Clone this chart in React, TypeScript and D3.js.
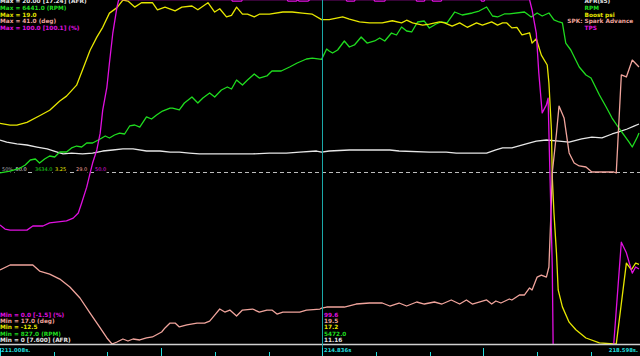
import React from "react";
import * as d3 from "d3";

const W = 640;
const H = 356;
const PLOT_BOTTOM = 344;

const T_START = 211.008;
const T_CURSOR = 214.836;
const T_END = 218.598;
const TICK_STEP = 0.638;

type P = [number, number]; // [seconds after T_START, value]

const afrData: P[] = [
  [0.0, 11.86], [0.08, 11.74], [0.2, 11.63], [0.32, 11.57], [0.44, 11.45], [0.56, 11.34], [0.68, 11.16], [0.75, 11.05],
  [0.85, 11.1], [0.98, 11.05], [1.1, 11.1], [1.22, 11.22], [1.34, 11.28], [1.46, 11.34], [1.58, 11.34], [1.74, 11.22],
  [1.9, 11.22], [2.02, 11.16], [2.13, 11.16], [2.25, 11.1], [2.37, 11.05], [2.69, 11.05], [3.0, 11.05], [3.2, 11.1],
  [3.4, 11.1], [3.56, 11.16], [3.76, 11.22], [3.82, 11.16], [3.91, 11.22], [4.15, 11.28], [4.39, 11.28], [4.63, 11.28],
  [4.74, 11.22], [5.1, 11.16], [5.3, 11.16], [5.42, 11.1], [5.57, 11.1], [5.78, 11.1], [5.89, 11.28], [5.97, 11.4],
  [6.08, 11.4], [6.25, 11.63], [6.37, 11.8], [6.49, 11.86], [6.64, 11.8], [6.76, 11.74], [6.91, 11.92], [7.03, 12.03],
  [7.15, 11.98], [7.27, 12.21], [7.35, 12.33], [7.45, 12.5], [7.53, 12.67], [7.59, 12.79],
];

const rpmData: P[] = [
  [0.0, 3618], [0.12, 3650], [0.24, 3699], [0.3, 3748], [0.36, 3830], [0.42, 3846], [0.47, 3781], [0.53, 3846],
  [0.59, 3895], [0.65, 3879], [0.71, 3960], [0.79, 3960], [0.85, 4026], [0.91, 4058], [0.97, 4042], [1.03, 4107],
  [1.1, 4107], [1.19, 4173], [1.25, 4222], [1.3, 4189], [1.36, 4238], [1.42, 4270], [1.48, 4254], [1.54, 4385],
  [1.6, 4401], [1.66, 4368], [1.74, 4532], [1.8, 4499], [1.86, 4564], [1.93, 4629], [2.02, 4678], [2.05, 4678],
  [2.13, 4646], [2.19, 4760], [2.28, 4858], [2.35, 4760], [2.41, 4842], [2.49, 4923], [2.55, 4858], [2.63, 4972],
  [2.7, 5021], [2.75, 4989], [2.81, 5135], [2.88, 5054], [2.94, 5135], [3.02, 5233], [3.08, 5168], [3.17, 5201],
  [3.23, 5282], [3.34, 5282], [3.44, 5348], [3.53, 5413], [3.64, 5478], [3.71, 5494], [3.82, 5472], [3.88, 5641],
  [3.91, 5609], [3.95, 5576], [4.01, 5625], [4.09, 5772], [4.15, 5674], [4.21, 5707], [4.29, 5837], [4.36, 5739],
  [4.45, 5772], [4.51, 5821], [4.57, 5772], [4.65, 5902], [4.71, 5870], [4.77, 6000], [4.83, 5935], [4.89, 5919],
  [4.96, 6082], [5.04, 6098], [5.1, 5984], [5.18, 6049], [5.24, 6082], [5.31, 6066], [5.4, 6245], [5.49, 6196],
  [5.61, 6229], [5.69, 6261], [5.78, 6327], [5.85, 6180], [5.91, 6164], [5.99, 6213], [6.05, 6213], [6.23, 6245],
  [6.31, 6164], [6.38, 6229], [6.44, 6180], [6.52, 6229], [6.58, 6115], [6.64, 6082], [6.68, 6066], [6.72, 5739],
  [6.78, 5625], [6.88, 5348], [6.96, 5217], [7.02, 5168], [7.12, 4891], [7.2, 4695], [7.27, 4515], [7.35, 4352],
  [7.41, 4238], [7.47, 4124], [7.51, 4042], [7.57, 4205], [7.59, 4270],
];

const boostData: P[] = [
  [0.0, 7.7], [0.12, 7.55], [0.2, 7.55], [0.32, 7.8], [0.47, 8.4], [0.59, 8.9], [0.71, 9.75], [0.79, 10.2],
  [0.91, 11.2], [0.98, 12.6], [1.07, 14.4], [1.15, 15.6], [1.22, 16.5], [1.3, 17.8], [1.39, 18.3], [1.46, 19.0],
  [1.52, 18.9], [1.6, 18.35], [1.68, 18.75], [1.81, 18.75], [1.87, 18.1], [1.96, 18.35], [2.08, 18.0], [2.16, 18.35],
  [2.28, 18.45], [2.35, 18.1], [2.47, 18.75], [2.55, 17.9], [2.61, 18.2], [2.69, 17.45], [2.75, 17.6], [2.81, 18.35],
  [2.88, 17.7], [2.94, 17.7], [3.02, 17.45], [3.08, 17.7], [3.2, 17.7], [3.36, 17.9], [3.47, 17.9], [3.59, 17.8],
  [3.71, 17.7], [3.82, 17.2], [3.91, 17.2], [4.07, 17.45], [4.15, 17.25], [4.27, 17.0], [4.39, 16.9], [4.54, 16.9],
  [4.66, 17.1], [4.77, 16.9], [4.83, 17.15], [4.9, 16.9], [5.02, 16.7], [5.1, 16.8], [5.22, 17.0], [5.28, 16.9],
  [5.37, 16.6], [5.46, 16.9], [5.55, 16.5], [5.66, 16.9], [5.73, 16.7], [5.84, 17.0], [5.91, 16.7], [5.97, 16.9],
  [6.02, 16.9], [6.08, 16.45], [6.14, 16.5], [6.2, 15.8], [6.29, 16.0], [6.32, 15.05], [6.37, 15.45], [6.43, 13.95],
  [6.5, 13.05], [6.52, 11.4], [6.55, 7.1], [6.56, 2.8], [6.58, -0.5], [6.61, -4.2], [6.63, -7.55], [6.68, -9.1],
  [6.76, -10.5], [6.84, -11.2], [6.96, -11.95], [7.12, -12.4], [7.29, -12.5], [7.32, -12.5], [7.44, -5.1], [7.5, -5.7],
  [7.55, -5.1], [7.59, -5.2],
];

const sparkData: P[] = [
  [0.0, 22.16], [0.12, 22.51], [0.24, 22.51], [0.39, 22.51], [0.47, 22.09], [0.59, 21.88], [0.71, 21.53], [0.83, 20.98],
  [0.95, 20.21], [1.07, 19.16], [1.19, 18.12], [1.27, 17.42], [1.33, 17.0], [1.39, 17.14], [1.46, 17.35], [1.52, 17.21],
  [1.58, 17.35], [1.66, 17.28], [1.74, 17.42], [1.81, 17.49], [1.92, 17.84], [1.96, 18.12], [2.02, 18.46], [2.08, 18.46],
  [2.13, 18.19], [2.22, 18.33], [2.34, 18.46], [2.43, 18.46], [2.49, 18.6], [2.55, 19.02], [2.61, 19.44], [2.67, 19.23],
  [2.73, 19.37], [2.81, 18.95], [2.88, 19.37], [3.0, 19.44], [3.08, 19.23], [3.17, 19.37], [3.23, 19.37], [3.29, 19.09],
  [3.36, 19.23], [3.56, 19.23], [3.64, 19.37], [3.8, 19.44], [3.82, 19.5], [3.88, 19.58], [4.09, 19.58], [4.23, 19.79],
  [4.39, 19.86], [4.54, 19.86], [4.63, 19.65], [4.74, 19.86], [4.83, 19.65], [4.95, 19.93], [5.04, 19.79], [5.16, 19.93],
  [5.25, 19.79], [5.36, 20.07], [5.46, 19.79], [5.54, 20.07], [5.61, 19.79], [5.78, 20.07], [5.84, 19.79], [5.89, 20.0],
  [5.95, 19.86], [6.05, 20.14], [6.08, 20.07], [6.17, 20.42], [6.23, 20.42], [6.29, 20.91], [6.32, 20.77], [6.38, 21.67],
  [6.43, 21.81], [6.49, 21.67], [6.52, 22.37], [6.55, 27.05], [6.56, 28.93], [6.61, 31.72], [6.64, 33.6], [6.7, 32.77],
  [6.76, 30.33], [6.82, 29.63], [6.88, 29.42], [6.96, 29.35], [7.03, 29.0], [7.29, 29.0], [7.32, 28.93], [7.38, 35.77],
  [7.44, 35.63], [7.51, 36.81], [7.59, 36.33],
];

const tpsData: P[] = [
  [0.0, 34.6], [0.06, 33.4], [0.12, 33.1], [0.24, 33.1], [0.32, 33.1], [0.39, 34.3], [0.51, 34.3], [0.59, 35.2],
  [0.69, 35.5], [0.79, 35.8], [0.87, 36.6], [0.93, 38.1], [0.97, 41.0], [1.03, 45.6], [1.07, 49.7], [1.1, 52.6],
  [1.15, 56.4], [1.19, 61.3], [1.22, 68.0], [1.27, 74.7], [1.3, 81.7], [1.34, 90.4], [1.39, 98.0], [1.41, 100.1],
  [2.75, 100.1], [2.76, 99.7], [2.87, 99.7], [2.88, 100.1], [3.41, 100.1], [3.42, 99.7], [3.52, 99.7], [3.54, 100.1],
  [3.55, 99.7], [3.66, 99.7], [3.68, 100.1], [4.11, 100.1], [4.12, 99.7], [4.21, 99.7], [4.22, 100.1], [4.44, 100.1],
  [4.45, 99.7], [4.57, 99.7], [4.58, 100.1], [4.94, 100.1], [4.95, 99.7], [5.04, 99.7], [5.05, 100.1], [5.13, 100.1],
  [5.14, 99.7], [5.24, 99.7], [5.25, 100.1], [5.71, 100.1], [5.72, 99.7], [5.75, 99.7], [5.76, 100.1], [6.29, 100.1],
  [6.32, 97.1], [6.37, 90.4], [6.4, 78.8], [6.44, 67.2], [6.49, 69.5], [6.51, 71.5], [6.53, 51.5], [6.56, 22.4],
  [6.57, 0.0], [6.58, -1.5], [7.28, -1.5], [7.29, 0.0], [7.38, 29.6], [7.44, 26.5], [7.51, 20.6], [7.55, 22.4],
  [7.59, 21.8],
];

const afrDomain: [number, number] = [0, 20];
const rpmDomain: [number, number] = [827, 6441];
const boostDomain: [number, number] = [-12.5, 19];
const sparkDomain: [number, number] = [17, 41];
const tpsDomain: [number, number] = [0, 100];

const legendNames = ["AFR(s5)", "RPM", "Boost psi", "Spark Advance", "TPS"];
const legendPrefix = "SPK:";
const maxLabels = [
  "Max = 20.00 [17.24] (AFR)",
  "Max = 6441.0 (RPM)",
  "Max = 19.0",
  "Max = 41.0 (deg)",
  "Max = 100.0 [100.1] (%)",
];
const minLabels = [
  "Min = 0.0 [-1.5] (%)",
  "Min = 17.0 (deg)",
  "Min = -12.5",
  "Min = 827.0 (RPM)",
  "Min = 0 [7.600] (AFR)",
];
const cursorValues = ["99.6", "19.5", "17.2", "5472.0", "11.16"];
const midLabels = ["50%", "50.0", "3634.0", "3.25", "29.0", "50.0"];

const C = {
  afr: "#e6e6e6",
  rpm: "#1fdc1f",
  boost: "#e6e600",
  spark: "#f0a49c",
  tps: "#e010e0",
  grey: "#a8a8a8",
  cyan: "#22dede",
  cursor: "#1aa8a8",
  base: "#cfcfcf",
};

const FONT = "'DejaVu Sans', sans-serif";

export default function App() {
  const x = d3.scaleLinear().domain([0, T_END - T_START]).range([0, 639]);
  const mkY = (d: [number, number]) => d3.scaleLinear().domain(d).range([PLOT_BOTTOM, 0]);

  const series = [
    { data: afrData, y: mkY(afrDomain), color: C.afr },
    { data: rpmData, y: mkY(rpmDomain), color: C.rpm },
    { data: boostData, y: mkY(boostDomain), color: C.boost },
    { data: sparkData, y: mkY(sparkDomain), color: C.spark },
    { data: tpsData, y: mkY(tpsDomain), color: C.tps },
  ];

  const maxColors = [C.afr, C.rpm, C.boost, C.spark, C.tps];
  const minColors = [C.tps, C.spark, C.boost, C.rpm, C.afr];
  const midColors = [C.grey, C.afr, C.rpm, C.boost, C.spark, C.tps];
  const midX = [2, 15.5, 35, 55, 76, 95];

  const cursorX = Math.round(x(T_CURSOR - T_START)) + 0.5;
  const midY = Math.round(PLOT_BOTTOM / 2) + 0.5;

  const ticks: number[] = [];
  for (let k = 0; k * TICK_STEP <= T_END - T_START + 1e-9; k++) ticks.push(k);

  const labelFont = { fontSize: 5.8, fontFamily: FONT, fontWeight: 700 as const };

  return (
    <>
      <style>{`body{margin:0;background:#000}`}</style>
      <svg width={W} height={H} style={{ display: "block", background: "#000" }}>
        <defs>
          <clipPath id="plotClip">
            <rect x={0} y={0} width={W} height={PLOT_BOTTOM} />
          </clipPath>
        </defs>
        <rect x={0} y={0} width={W} height={H} fill="#000" />

        {/* mid dashed line */}
        <line x1={0} x2={W} y1={midY} y2={midY} stroke="#bdbdbd" strokeWidth={1} strokeDasharray="4 3" />
        {midLabels.map((t, i) => (
          <g key={"mid" + i}>
            <rect x={midX[i] - 1} y={165} width={t.length * 2.9 + 1} height={10} fill="#000" />
            <text x={midX[i]} y={171} fill={midColors[i]} fontSize={5} fontFamily={FONT}>
              {t}
            </text>
          </g>
        ))}

        {/* series */}
        <g clipPath="url(#plotClip)">
          {series.map((s, i) => {
            const line = d3
              .line<P>()
              .x((d) => x(d[0]))
              .y((d) => s.y(d[1]));
            return (
              <path key={"s" + i} d={line(s.data) || ""} fill="none" stroke={s.color} strokeWidth={1.3} strokeLinejoin="round" />
            );
          })}
        </g>

        {/* baseline */}
        <line x1={0} x2={W} y1={PLOT_BOTTOM + 0.5} y2={PLOT_BOTTOM + 0.5} stroke={C.base} strokeWidth={1.5} />

        {/* cursor */}
        <line x1={cursorX} x2={cursorX} y1={0} y2={H} stroke={C.cursor} strokeWidth={1} />

        {/* time ticks */}
        {ticks.map((k) => {
          const tx = Math.round(x(k * TICK_STEP)) + 0.5;
          const tall = k % 3 === 0;
          return (
            <line key={"t" + k} x1={tx} x2={tx} y1={tall ? 348 : 352} y2={H} stroke={C.cyan} strokeWidth={1} />
          );
        })}
        <text x={1} y={351.5} fill={C.cyan} fontSize={5.3} fontFamily={FONT} fontWeight={700}>
          {T_START.toFixed(3) + "s."}
        </text>
        <text x={cursorX + 1.5} y={351.5} fill={C.cyan} fontSize={5.3} fontFamily={FONT} fontWeight={700}>
          {T_CURSOR.toFixed(3) + "s"}
        </text>
        <text x={638} y={351.5} fill={C.cyan} fontSize={5.3} fontFamily={FONT} fontWeight={700} textAnchor="end">
          {T_END.toFixed(3) + "s."}
        </text>

        {/* max labels */}
        {maxLabels.map((t, i) => (
          <text key={"max" + i} x={0} y={3.4 + i * 6.6} fill={maxColors[i]} {...labelFont}>
            {t}
          </text>
        ))}

        {/* min labels */}
        {minLabels.map((t, i) => (
          <text key={"min" + i} x={0} y={316.6 + i * 6.3} fill={minColors[i]} {...labelFont}>
            {t}
          </text>
        ))}

        {/* cursor values */}
        {cursorValues.map((t, i) => (
          <text key={"cv" + i} x={cursorX + 1.5} y={316.6 + i * 6.3} fill={minColors[i]} {...labelFont}>
            {t}
          </text>
        ))}

        {/* legend */}
        {legendNames.map((t, i) => (
          <g key={"lg" + i}>
            {i === 3 && (
              <text x={582.5} y={3.4 + i * 6.6} fill={maxColors[i]} {...labelFont} textAnchor="end">
                {legendPrefix}
              </text>
            )}
            <text x={584.5} y={3.4 + i * 6.6} fill={maxColors[i]} {...labelFont}>
              {t}
            </text>
          </g>
        ))}
      </svg>
    </>
  );
}
